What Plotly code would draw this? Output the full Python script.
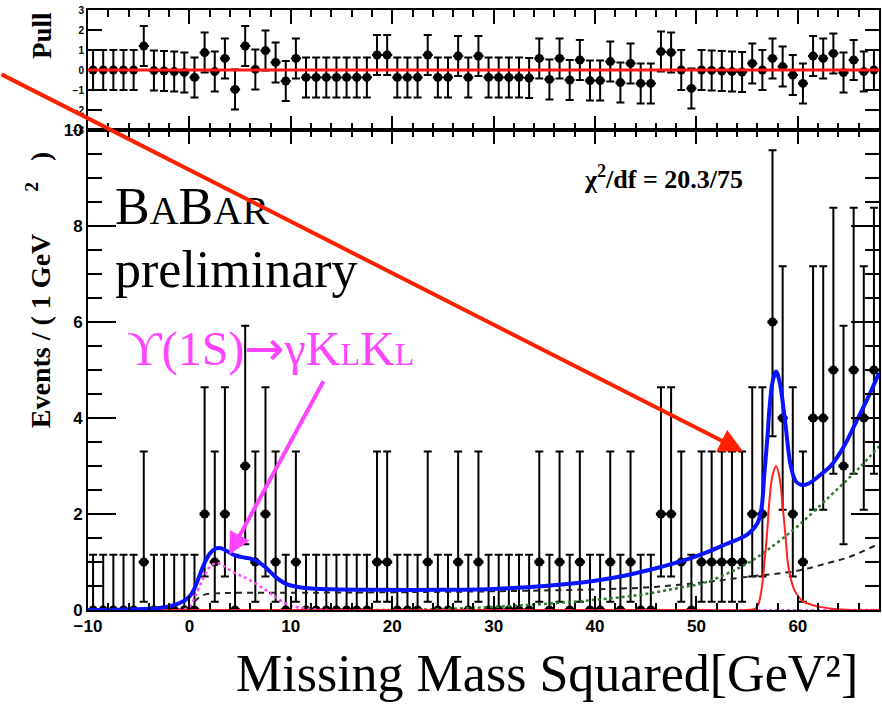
import plotly.graph_objects as go

# ---------------------------------------------------------------------------
# Data: missing-mass-squared spectrum, 1 GeV^2 bins from -10 to 68
# ---------------------------------------------------------------------------
bin_centers = [-9.5 + i for i in range(78)]

counts = [
    0, 0, 0, 0, 0, 1, 0, 0, 0, 0,        # -9.5 .. -0.5
    0, 2, 1, 2, 0, 3, 1, 2, 1, 0,        #  0.5 ..  9.5
    1, 0, 0, 0, 0, 0, 0, 0, 1, 1,        # 10.5 .. 19.5
    0, 0, 0, 1, 0, 0, 1, 0, 1, 0,        # 20.5 .. 29.5
    0, 0, 0, 0, 1, 0, 1, 0, 1, 0,        # 30.5 .. 39.5
    0, 1, 0, 1, 0, 0, 2, 2, 1, 0,        # 40.5 .. 49.5
    1, 1, 1, 1, 1, 2, 2, 6, 4, 2,        # 50.5 .. 59.5
    1, 4, 4, 5, 3, 5, 4, 5,              # 60.5 .. 67.5
]

pulls = [
    0.0, 0.0, 0.0, 0.0, 0.0, 1.2, -0.03, -0.05, -0.08, -0.12,
    -0.37, 0.87, -0.08, 0.58, -0.97, 1.2, 0.03, 0.97, 0.38, -0.55,
    0.58, -0.37, -0.37, -0.37, -0.37, -0.37, -0.37, -0.37, 0.75, 0.75,
    -0.37, -0.37, -0.37, 0.75, -0.37, -0.37, 0.7, -0.37, 0.7, -0.37,
    -0.37, -0.37, -0.37, -0.4, 0.58, -0.47, 0.58, -0.5, 0.5, -0.53,
    -0.53, 0.42, -0.63, 0.33, -0.67, -0.67, 0.92, 0.88, 0.0, -0.92,
    0.0, -0.02, -0.05, -0.08, -0.1, 0.33, 0.0, 0.58, 0.17, -0.25,
    -0.67, 0.7, 0.58, 0.83, -0.13, 0.5, -0.08, 0.0,
]

# Poisson (asymmetric) error bar half-lengths, indexed by the bin count
poisson_lo = [0.0, 0.83, 1.30, 1.63, 1.91, 2.16, 2.38]
poisson_hi = [1.15, 2.30, 2.64, 2.92, 3.16, 3.38, 3.58]

# Fit components (Events / 1 GeV^2) sampled along the missing mass squared
total_x = [-10, -6, -3, -1, 0, 0.5, 1, 1.5, 2, 2.5, 3, 3.5, 4, 4.5, 5, 5.5,
           6, 6.5, 7, 7.5, 8, 8.5, 9, 9.5, 10, 11, 12, 14, 18, 25, 30, 35,
           40, 43, 46, 49, 51, 53, 55, 56, 56.4, 56.7, 57, 57.2, 57.5, 57.85,
           58.2, 58.7, 59.3, 59.8, 60.3, 61, 61.6, 62.4, 63.2, 64, 64.9, 65.7,
           66.5, 67.3, 68]
total_y = [0.0, 0.01, 0.04, 0.14, 0.28, 0.45, 0.72, 0.98, 1.17, 1.27, 1.29,
           1.25, 1.19, 1.14, 1.11, 1.09, 1.07, 1.03, 0.97, 0.89, 0.79, 0.69,
           0.61, 0.55, 0.51, 0.47, 0.45, 0.43, 0.42, 0.42, 0.44, 0.50, 0.61,
           0.72, 0.87, 1.05, 1.20, 1.38, 1.57, 1.80, 2.10, 2.85, 3.60, 4.20,
           4.75, 4.97, 4.75, 4.00, 3.00, 2.68, 2.61, 2.63, 2.71, 2.85, 2.99,
           3.22, 3.55, 3.90, 4.24, 4.60, 4.94]

peak_x = [-10, 20, 50, 55, 55.8, 56.1, 56.4, 56.7, 57.0, 57.2, 57.5, 57.85,
          58.2, 58.5, 58.8, 59.0, 59.3, 59.65, 60.1, 60.6, 61.5, 62.3, 63.6,
          65, 68]
peak_y = [0, 0, 0, 0, 0.03, 0.12, 0.4, 0.98, 1.7, 2.3, 2.8, 3.0, 2.75, 2.16,
          1.5, 1.0, 0.65, 0.42, 0.27, 0.17, 0.1, 0.06, 0.02, 0, 0]

kk_x = [-10, -1, -0.3, 0, 0.5, 1, 1.5, 2, 2.5, 2.8, 3.3, 3.9, 5, 5.9, 7.5,
        8.5, 9.2, 10, 10.8, 12, 14, 68]
kk_y = [0, 0, 0.03, 0.07, 0.25, 0.49, 0.72, 0.90, 0.97, 0.98, 0.93, 0.84,
        0.72, 0.63, 0.42, 0.27, 0.17, 0.09, 0.05, 0.02, 0, 0]

comb_x = [-10, -0.5, 0, 0.5, 1, 1.5, 2, 3, 5, 10, 20, 30, 40, 45, 50, 55, 60,
          63, 65, 68]
comb_y = [0, 0, 0.05, 0.17, 0.27, 0.32, 0.34, 0.35, 0.36, 0.36, 0.37, 0.39,
          0.43, 0.47, 0.56, 0.69, 0.82, 0.98, 1.10, 1.38]

cont_x = [-10, 20, 25, 30.5, 37.7, 44.2, 48, 51.1, 55.1, 57, 60, 63.3, 66, 68]
cont_y = [0, 0, 0.02, 0.07, 0.17, 0.31, 0.45, 0.59, 0.98, 1.25, 1.75, 2.4,
          2.95, 3.41]

# ---------------------------------------------------------------------------
# Frame geometry (pixels) used to place labels and arrows
# ---------------------------------------------------------------------------
W, H = 882, 705
L, R, T, B = 88, 881, 10, 610


def px(x):
    return (x - L) / (R - L)


def py(y):
    return (B - y) / (B - T)


err_lo = [poisson_lo[c] for c in counts]
err_hi = [poisson_hi[c] for c in counts]
half_bin = [0.5] * len(bin_centers)
pull_err = [1.0] * len(bin_centers)

fig = go.Figure()

# Data points with Poisson errors
fig.add_trace(go.Scatter(
    x=bin_centers, y=counts, mode="markers", xaxis="x", yaxis="y",
    marker=dict(symbol="circle", size=9, color="black"),
    error_y=dict(type="data", symmetric=False, array=err_hi, arrayminus=err_lo,
                 color="black", thickness=2, width=4),
    error_x=dict(type="data", array=half_bin, color="black", thickness=3, width=0),
    showlegend=False,
))

# Fit components
fig.add_trace(go.Scatter(x=comb_x, y=comb_y, mode="lines", xaxis="x", yaxis="y",
                         line=dict(color="#222222", width=2, dash="6px,5px", shape="spline"),
                         showlegend=False))
fig.add_trace(go.Scatter(x=cont_x, y=cont_y, mode="lines", xaxis="x", yaxis="y",
                         line=dict(color="#2f7a2f", width=2.5, dash="dot", shape="spline"),
                         showlegend=False))
fig.add_trace(go.Scatter(x=kk_x, y=kk_y, mode="lines", xaxis="x", yaxis="y",
                         line=dict(color="#ff44ff", width=2.5, dash="dot", shape="spline"),
                         showlegend=False))
fig.add_trace(go.Scatter(x=peak_x, y=peak_y, mode="lines", xaxis="x", yaxis="y",
                         line=dict(color="#ff2020", width=2, shape="spline"),
                         showlegend=False))
fig.add_trace(go.Scatter(x=total_x, y=total_y, mode="lines", xaxis="x", yaxis="y",
                         line=dict(color="#0a14ff", width=4, shape="spline"),
                         showlegend=False))

# Pull distribution
fig.add_trace(go.Scatter(
    x=bin_centers, y=pulls, mode="markers", xaxis="x2", yaxis="y2",
    marker=dict(symbol="circle", size=9, color="black"),
    error_y=dict(type="data", array=pull_err, color="black", thickness=2, width=4),
    error_x=dict(type="data", array=half_bin, color="black", thickness=2, width=0),
    showlegend=False,
))

# zero line of the pull panel
fig.add_shape(type="line", xref="x2 domain", yref="y2", x0=0, x1=1, y0=0, y1=0,
              line=dict(color="#ff1a1a", width=3), layer="above")

tick_font = dict(family="Liberation Sans", size=17, color="black", weight="bold")
axis_common = dict(showline=True, linecolor="black", linewidth=2, mirror="allticks",
                   ticks="inside", tickcolor="black", tickwidth=2, showgrid=False,
                   zeroline=False)

fig.update_layout(
    width=W, height=H,
    margin=dict(l=L, r=W - R, t=T, b=H - B),
    paper_bgcolor="white", plot_bgcolor="white",
    xaxis=dict(domain=[0, 1], anchor="y", range=[-10, 68], tick0=0, dtick=10,
               ticklen=14, tickfont=tick_font,
               minor=dict(dtick=2, ticklen=7, ticks="inside", tickcolor="black", tickwidth=2),
               **axis_common),
    yaxis=dict(domain=[0, 0.8], anchor="x", range=[0, 10], tick0=0, dtick=2,
               ticklen=28, tickfont=tick_font,
               minor=dict(dtick=0.5, ticklen=14, ticks="inside", tickcolor="black", tickwidth=2),
               **axis_common),
    xaxis2=dict(domain=[0, 1], anchor="y2", matches="x", range=[-10, 68], tick0=0,
                dtick=10, ticklen=14, showticklabels=False,
                minor=dict(dtick=2, ticklen=7, ticks="inside", tickcolor="black", tickwidth=2),
                **axis_common),
    yaxis2=dict(domain=[0.8, 1.0], anchor="x2", range=[-3, 3],
                tickvals=[-3, -2, -1, 0, 1, 2, 3], ticklen=14,
                tickfont=dict(family="Liberation Sans", size=10, color="black", weight="bold"),
                **axis_common),
    yaxis3=dict(overlaying="y2", anchor="x2", range=[-3, 3], tickvals=[-2, 0, 2],
                ticklen=28, ticks="inside", tickcolor="black", tickwidth=2,
                mirror="allticks", showline=False, showticklabels=False,
                showgrid=False, zeroline=False, side="left"),
)

serif = "Liberation Serif"
nb = "\u00a0"
annotations = [
    dict(text='B<span style="font-size:40px">A</span>B<span style="font-size:40px">AR</span>',
         x=px(113), y=py(206), xanchor="left", yanchor="middle",
         font=dict(family=serif, size=52, color="black")),
    dict(text="preliminary", x=px(113), y=py(269), xanchor="left", yanchor="middle",
         font=dict(family=serif, size=52, color="black")),
    dict(text=('ϒ(1S)<span style="font-family:\'DejaVu Sans\'">→</span>γ'
               'K<span style="font-size:32px">L</span>K<span style="font-size:32px">L</span>'),
         x=px(125), y=py(348), xanchor="left", yanchor="middle",
         font=dict(family=serif, size=48, color="#ff44ff")),
    dict(text="χ<sup>2</sup>/df = 20.3/75", x=px(665), y=py(177),
         xanchor="center", yanchor="middle",
         font=dict(family=serif, size=26, color="black", weight="bold")),
    dict(text="Events / ( 1 GeV" + nb * 6 + "<sup>2</sup>" + nb * 3 + ")",
         x=px(38), y=py(290), textangle=-90, xanchor="center", yanchor="middle",
         font=dict(family=serif, size=28, color="black", weight="bold")),
    dict(text="Pull", x=px(42), y=py(36), textangle=-90, xanchor="center", yanchor="middle",
         font=dict(family=serif, size=27, color="black", weight="bold")),
    dict(text="Missing Mass Squared[GeV²]", x=px(862), y=py(673),
         xanchor="right", yanchor="middle",
         font=dict(family=serif, size=52, color="black")),
]
for a in annotations:
    a.update(xref="paper", yref="paper", showarrow=False)

# arrow pointing at the narrow peak
annotations.append(dict(text="", x=54.6, y=3.3, xref="x", yref="y", showarrow=True,
                        ax=-745, ay=-378, arrowhead=2, arrowsize=1.2, arrowwidth=4,
                        arrowcolor="#ff2200"))
# arrow pointing at the gamma K_L K_L component
annotations.append(dict(text="", x=3.93, y=1.15, xref="x", yref="y", showarrow=True,
                        ax=95, ay=-175, arrowhead=2, arrowsize=1.1, arrowwidth=4,
                        arrowcolor="#ff44ff"))

fig.update_layout(annotations=annotations)

fig.write_html("out.html")
